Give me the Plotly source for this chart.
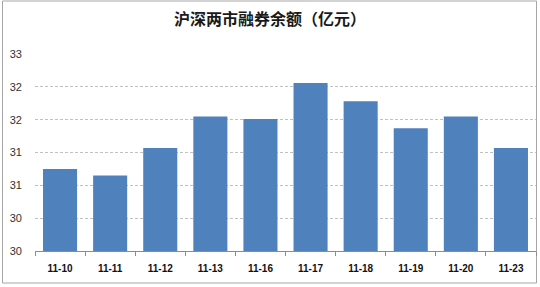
import plotly.graph_objects as go

categories = ["11-10", "11-11", "11-12", "11-13", "11-16", "11-17", "11-18", "11-19", "11-20", "11-23"]
values = [31.25, 31.15, 31.57, 32.05, 32.01, 32.56, 32.28, 31.87, 32.05, 31.57]
y_tick_vals = [30, 30.5, 31, 31.5, 32, 32.5, 33]
y_tick_labels = ["30", "30", "31", "31", "32", "32", "33"]
title_text = "沪深两市融券余额（亿元）"

W, H = 540, 287
L, R, T, B = 35, 4, 54, 36
pw, ph = W - L - R, H - T - B

def px_x(p):
    return (p - L) / pw

def px_y(p):
    return (H - B - p) / ph

fig = go.Figure(go.Bar(
    x=categories, y=values, marker=dict(color="#4F81BD", line=dict(width=0)),
))

fig.update_layout(
    width=W, height=H,
    margin=dict(l=L, r=R, t=T, b=B),
    paper_bgcolor="white", plot_bgcolor="white",
    bargap=0.32,
    showlegend=False,
    title=dict(text="<b>" + title_text + "</b>", x=0.5, xanchor="center",
               y=1 - 19 / H, yanchor="middle",
               font=dict(family="Noto Sans CJK SC", size=16, color="#1a1a1a")),
    xaxis=dict(
        type="category", showgrid=False, showline=True, linecolor="#8c8c8c", linewidth=1,
        ticks="outside", tickson="boundaries", ticklen=4, tickcolor="#8c8c8c",
        tickfont=dict(family="Liberation Sans", size=10, color="#111111", weight="bold"),
        ticklabelstandoff=8,
    ),
    yaxis=dict(
        range=[30, 33], tickvals=y_tick_vals, ticktext=y_tick_labels,
        showgrid=True, gridcolor="#c0c0c0", griddash="3px,2px", gridwidth=1,
        showline=False, zeroline=False, ticks="",
        tickfont=dict(family="Liberation Sans", size=11, color="#333333"),
        ticklabelstandoff=12,
    ),
    shapes=[dict(type="rect", xref="paper", yref="paper",
                 x0=px_x(2.5), x1=px_x(536.5), y0=px_y(283), y1=px_y(1),
                 line=dict(color="#a6a6a6", width=1), fillcolor="rgba(0,0,0,0)", layer="below")],
)

fig.write_html("out.html")
